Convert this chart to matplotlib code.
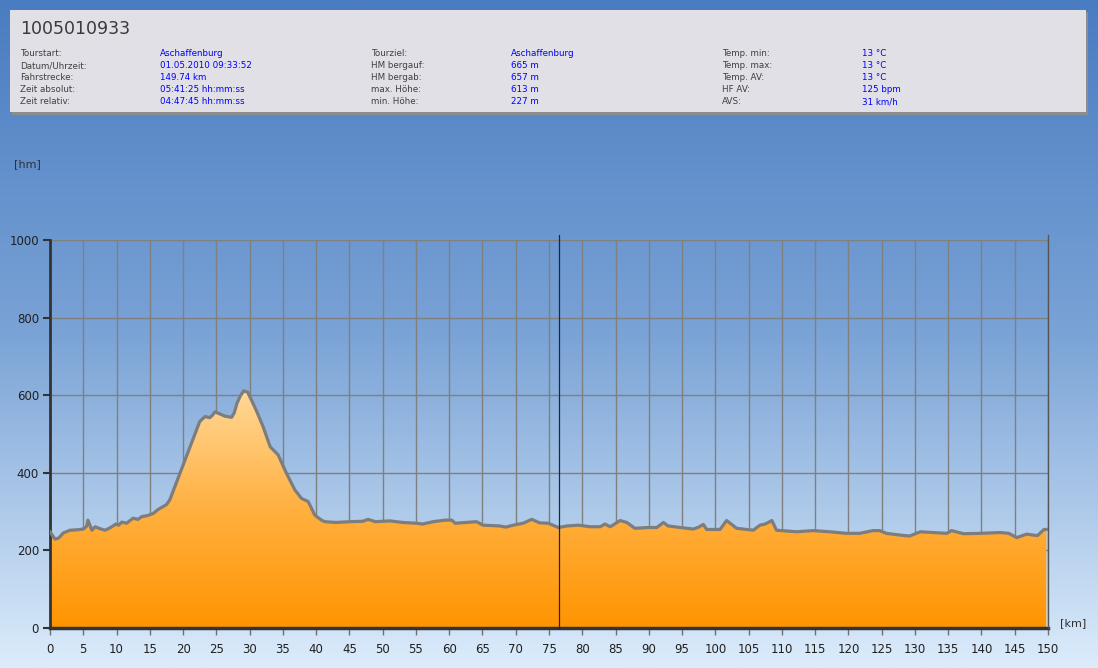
import numpy as np
import matplotlib
matplotlib.use("Agg")
import matplotlib.pyplot as plt
from matplotlib.colors import LinearSegmentedColormap
from matplotlib.patches import Rectangle, Polygon

# ---- data ----
km = [0, 0.4, 0.75, 1.3, 2.0, 3.0, 4.0, 5.0, 5.5, 5.7, 6.0, 6.3, 6.8, 7.5, 8.3, 9.0, 9.9,
      10.3, 10.8, 11.5, 12.5, 13.2, 13.8, 14.7, 15.5, 16.2, 17.0, 17.5, 18.0, 19.0, 20.0,
      21.0, 22.0, 22.5, 23.3, 24.0, 24.4, 24.8, 25.5, 26.3, 27.3, 27.7, 28.1, 28.6, 29.1,
      29.7, 30.4, 31.1, 32.0, 33.1, 34.3, 35.5, 36.8, 37.8, 38.8, 39.8, 40.8, 41.3, 43.0,
      45.1, 47.0, 47.8, 48.9, 51.1, 53.0, 55.1, 56.0, 57.6, 59.4, 60.4, 60.9, 62.6, 64.1,
      65.1, 67.6, 68.5, 69.6, 71.1, 72.4, 73.6, 74.9, 76.4, 77.7, 79.4, 81.2, 82.7, 83.4,
      84.2, 85.7, 86.7, 87.9, 89.9, 91.2, 92.2, 92.9, 94.7, 95.7, 96.7, 97.5, 98.2, 98.7,
      100.7, 101.7, 103.2, 104.7, 105.7, 106.7, 107.5, 108.5, 109.2, 112.2, 114.7, 117.2,
      119.7, 121.7, 123.7, 124.7, 125.7, 127.5, 129.2, 130.8, 132.8, 134.8, 135.5, 137.3,
      139.8, 142.8, 144.1, 145.3, 146.8, 148.4, 149.4, 149.74]
elev = [248, 238, 229, 232, 245, 252, 253, 255, 262, 278, 265, 252, 261, 256, 252, 258, 268,
        265, 273, 270, 283, 280, 287, 290, 295, 305, 313, 318, 330, 375, 420,
        465, 510, 532, 545, 542, 548, 557, 552, 546, 543, 555, 579, 598, 611,
        608, 583, 557, 520, 467, 446, 400, 356, 334, 326, 291, 278, 274, 272,
        274, 275, 280, 274, 276, 272, 270, 268, 274, 278, 278, 270, 272, 274,
        265, 263, 260, 265, 270, 280, 271, 270, 259, 263, 265, 261, 261, 268,
        261, 277, 272, 257, 259, 259, 272, 263, 259, 257, 255, 260, 267, 254,
        254, 277, 257, 254, 252, 265, 268, 277, 252, 248, 251, 248,
        244, 244, 251, 251, 244, 240, 237, 248, 246, 244, 251, 243,
        244, 246, 244, 233, 242, 238, 254, 254]

x_ticks = list(range(0, 151, 5))
y_ticks = [0, 200, 400, 600, 800, 1000]
marker_km = 76.5

title = "1005010933"
info_cols = [
    (["Tourstart:", "Datum/Uhrzeit:", "Fahrstrecke:", "Zeit absolut:", "Zeit relativ:"],
     ["Aschaffenburg", "01.05.2010 09:33:52", "149.74 km", "05:41:25 hh:mm:ss", "04:47:45 hh:mm:ss"]),
    (["Tourziel:", "HM bergauf:", "HM bergab:", "max. Höhe:", "min. Höhe:"],
     ["Aschaffenburg", "665 m", "657 m", "613 m", "227 m"]),
    (["Temp. min:", "Temp. max:", "Temp. AV:", "HF AV:", "AVS:"],
     ["13 °C", "13 °C", "13 °C", "125 bpm", "31 km/h"]),
]

W, H = 1098, 668
fig = plt.figure(figsize=(W / 100, H / 100), dpi=100)

# background gradient
bg = fig.add_axes([0, 0, 1, 1], zorder=-10)
bg_cmap = LinearSegmentedColormap.from_list("bg", ["#4a7cc1", "#7aa3d6", "#dcecfb"])
bg.imshow(np.linspace(0, 1, 256).reshape(-1, 1), aspect="auto", cmap=bg_cmap,
          extent=[0, 1, 0, 1], origin="upper")
bg.set_axis_off()

def fx(px):
    return px / W

def fy(py):
    return 1 - py / H

# header box
fig.patches.append(Rectangle((fx(12), fy(115)), fx(1076), 103 / H, transform=fig.transFigure,
                             facecolor="#8c8c8c", edgecolor="none", zorder=1))
fig.patches.append(Rectangle((fx(10), fy(112)), fx(1076), 102 / H, transform=fig.transFigure,
                             facecolor="#e1e0e6", edgecolor="none", zorder=2))
fig.text(fx(20), fy(29), title, fontsize=12.5, color="#3a3a3a", va="center", ha="left",
         zorder=3)
col_x = [(20, 160), (371, 511), (722, 862)]
row_y = [54, 66, 78, 90, 102]
for (lx, vx), (labels, values) in zip(col_x, info_cols):
    for ry, lab, val in zip(row_y, labels, values):
        fig.text(fx(lx), fy(ry), lab, fontsize=6.3, color="#404040", va="center", zorder=3)
        fig.text(fx(vx), fy(ry), val, fontsize=6.3, color="#0000ff", va="center", zorder=3)

# main axes
ax = fig.add_axes([fx(50), (H - 628) / H, (1048 - 50) / W, (628 - 240) / H])
ax.patch.set_alpha(0)
ax.set_xlim(0, 150)
ax.set_ylim(0, 1000)

ax.set_xticks(x_ticks)
ax.set_yticks(y_ticks)
ax.grid(True, color="#808080", linewidth=1.0)
ax.set_axisbelow(True)
for s in ["top", "right"]:
    ax.spines[s].set_visible(False)
ax.spines["left"].set_color("#333333")
ax.spines["left"].set_linewidth(2.0)
ax.spines["bottom"].set_color("#333333")
ax.spines["bottom"].set_linewidth(2.5)
ax.tick_params(axis="x", length=5, width=1, color="#707070", labelsize=8.5,
               labelcolor="#202020", pad=6)
ax.tick_params(axis="y", length=5, width=1.5, color="#333333", labelsize=8.5,
               labelcolor="#202020", pad=3)

# gradient filled profile
fill_cmap = LinearSegmentedColormap.from_list("fill", ["#ff9400", "#ffb040", "#ffd898"])
grad = ax.imshow(np.linspace(0, 1, 256).reshape(-1, 1), aspect="auto", cmap=fill_cmap,
                 extent=[0, 150, 0, max(elev)], origin="lower", zorder=2)
verts = [(km[0], 0)] + list(zip(km, elev)) + [(km[-1], 0)]
poly = Polygon(verts, closed=True, facecolor="none", edgecolor="none",
               transform=ax.transData)
ax.add_patch(poly)
grad.set_clip_path(poly)
ax.set_xlim(0, 150)
ax.set_ylim(0, 1000)
ax.plot(km, elev, color="#7d7d7d", linewidth=2.3, zorder=3, solid_joinstyle="round")

# marker lines
ax.axvline(marker_km, ymin=0, ymax=1.013, color="#1c2840", linewidth=0.9, zorder=4,
           clip_on=False)
ax.axvline(150, ymin=0, ymax=1.013, color="#555555", linewidth=1.0, zorder=4,
           clip_on=False)

fig.text(fx(14), fy(164), "[hm]", fontsize=8, color="#303030", va="center", ha="left")
fig.text(fx(1060), fy(623), "[km]", fontsize=8, color="#303030", va="center", ha="left")

fig.savefig("out.png", dpi=100)
